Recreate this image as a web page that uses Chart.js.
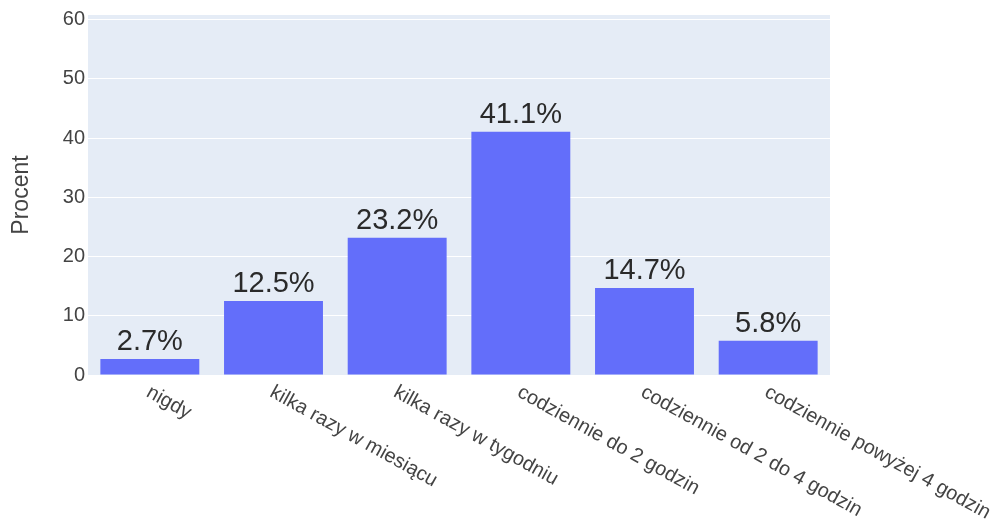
<!DOCTYPE html>
<html>
<head>
<meta charset="utf-8">
<script src="https://cdn.jsdelivr.net/npm/chart.js@4"></script>
<style>
  html, body { margin: 0; padding: 0; background: #fff; }
  #wrap { width: 1005px; height: 521px; }
</style>
</head>
<body>
<div id="wrap"><canvas id="chart" width="1005" height="521"></canvas></div>
<script>
const categories = [
  "nigdy",
  "kilka razy w miesiącu",
  "kilka razy w tygodniu",
  "codziennie do 2 godzin",
  "codziennie od 2 do 4 godzin",
  "codziennie powyżej 4 godzin",
];
const percents = [2.7, 12.5, 23.2, 41.1, 14.7, 5.8];
const yTicks = [0, 10, 20, 30, 40, 50, 60];

const FONT = "'Liberation Sans', Arial, sans-serif";

// Plot background like plotly
const plotBg = {
  id: "plotBg",
  beforeDraw(chart) {
    const { ctx, chartArea: a } = chart;
    ctx.save();
    ctx.fillStyle = "#e5ecf6";
    ctx.fillRect(a.left, a.top, a.right - a.left, a.bottom - a.top);
    ctx.restore();
  },
};

// Value labels above bars + slanted category labels
const labelsPlugin = {
  id: "labelsPlugin",
  afterDatasetsDraw(chart) {
    const ctx = chart.ctx;
    const meta = chart.getDatasetMeta(0);
    ctx.save();
    ctx.fillStyle = "#2a2a2a";
    ctx.font = "29px " + FONT;
    ctx.textAlign = "center";
    ctx.textBaseline = "alphabetic";
    meta.data.forEach((bar, i) => {
      ctx.fillText(percents[i].toFixed(1) + "%", bar.x, bar.y - 9);
    });
    ctx.restore();

    const xs = chart.scales.x;
    const bottom = chart.chartArea.bottom;
    ctx.save();
    ctx.fillStyle = "#444";
    ctx.font = "20px " + FONT;
    ctx.textAlign = "left";
    ctx.textBaseline = "middle";
    categories.forEach((c, i) => {
      const x = xs.getPixelForValue(i);
      ctx.save();
      ctx.translate(x - 2, bottom + 16);
      ctx.rotate((29 * Math.PI) / 180);
      ctx.fillText(c, 0, 0);
      ctx.restore();
    });
    ctx.restore();
  },
};

new Chart(document.getElementById("chart"), {
  type: "bar",
  data: {
    labels: categories,
    datasets: [
      {
        data: percents,
        backgroundColor: "#636efa",
        barPercentage: 0.8,
        categoryPercentage: 1.0,
      },
    ],
  },
  options: {
    responsive: false,
    animation: false,
    layout: { padding: { top: 15, right: 175, left: 0, bottom: 0 } },
    plugins: {
      legend: { display: false },
      tooltip: { enabled: false },
    },
    scales: {
      x: {
        grid: { display: false, drawTicks: false },
        border: { display: false },
        ticks: { display: false },
        afterFit(scale) {
          scale.height = 146;
        },
      },
      y: {
        min: 0,
        max: 60.8,
        grid: { color: "#ffffff", lineWidth: 1, drawTicks: false },
        border: { display: false },
        afterBuildTicks(axis) {
          axis.ticks = yTicks.map((v) => ({ value: v }));
        },
        ticks: {
          color: "#444",
          font: { family: FONT, size: 20 },
          padding: 3,
        },
        title: {
          display: true,
          text: "Procent",
          color: "#444",
          font: { family: FONT, size: 23 },
          padding: { top: 8, bottom: 0 },
        },
        afterFit(scale) {
          scale.width = 88;
        },
      },
    },
  },
  plugins: [plotBg, labelsPlugin],
});
</script>
</body>
</html>
